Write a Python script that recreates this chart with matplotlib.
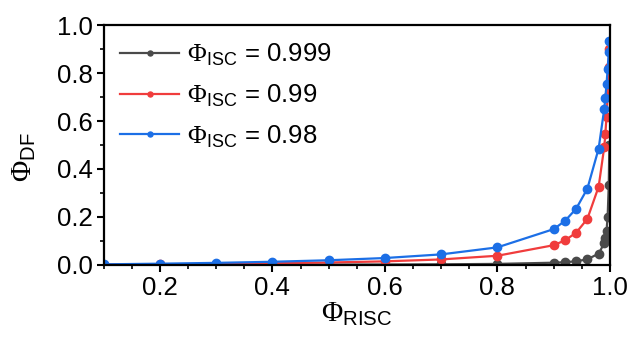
import matplotlib
matplotlib.use("Agg")
import matplotlib.pyplot as plt
from matplotlib.ticker import MultipleLocator

plt.rcParams["font.family"] = ["Liberation Sans", "DejaVu Sans"]
plt.rcParams["mathtext.fontset"] = "custom"
plt.rcParams["mathtext.rm"] = "Liberation Serif"
plt.rcParams["mathtext.sf"] = "Liberation Sans"

# Phi_RISC sample points
risc = [0.1, 0.2, 0.3, 0.4, 0.5, 0.6, 0.7, 0.8, 0.9, 0.92, 0.94, 0.96,
        0.98, 0.99, 0.992, 0.994, 0.996, 0.998, 0.999]

# Phi_DF
df_999 = [0.0001, 0.0002, 0.0004, 0.0007, 0.001, 0.0015, 0.0023, 0.004,
          0.009, 0.011, 0.015, 0.023, 0.047, 0.090, 0.110, 0.142, 0.199,
          0.333, 0.50]
df_99 = [0.0011, 0.0025, 0.0042, 0.0066, 0.0098, 0.0146, 0.0226, 0.038,
         0.082, 0.102, 0.134, 0.192, 0.326, 0.492, 0.548, 0.617, 0.706,
         0.825, 0.90]
df_98 = [0.0022, 0.0049, 0.0083, 0.0129, 0.0192, 0.0285, 0.0437, 0.073,
         0.149, 0.183, 0.234, 0.318, 0.485, 0.651, 0.698, 0.753, 0.816,
         0.890, 0.933]

series = [
    (df_999, "0.999", "#4a4a4a"),
    (df_99, "0.99", "#f03c3c"),
    (df_98, "0.98", "#1c6fe6"),
]

fig = plt.figure(figsize=(6.32, 3.4), dpi=100)
ax = fig.add_axes([0.164, 0.221, 0.801, 0.705])

for vals, lab, col in series:
    ax.plot(risc, vals, color=col, lw=1.6, marker="o", ms=6,
            label=r"$\Phi_{\mathsf{ISC}}$" + " = " + lab)

ax.set_xlim(0.1, 1.0)
ax.set_ylim(0.0, 1.0)
ax.xaxis.set_major_locator(MultipleLocator(0.2))
ax.xaxis.set_minor_locator(MultipleLocator(0.05))
ax.yaxis.set_major_locator(MultipleLocator(0.2))
ax.yaxis.set_minor_locator(MultipleLocator(0.1))
ax.set_xticks([0.2, 0.4, 0.6, 0.8, 1.0])
ax.tick_params(which="major", direction="out", length=5, width=1.5,
               labelsize=18.5, pad=3)
ax.tick_params(which="minor", direction="out", length=3, width=1.2)
for s in ax.spines.values():
    s.set_linewidth(1.6)

ax.set_xlabel(r"$\Phi_{\mathsf{RISC}}$", fontsize=21, labelpad=0)
ax.set_ylabel(r"$\Phi_{\mathsf{DF}}$", fontsize=21, labelpad=16)
ax.yaxis.set_label_coords(-0.13, 0.45)

leg = ax.legend(loc="upper left", frameon=False, fontsize=18.5,
                handlelength=2.3, markerscale=0.6, labelspacing=0.55,
                borderaxespad=0.25, handletextpad=0.3, borderpad=0.4)

fig.savefig("out.png", dpi=100)
